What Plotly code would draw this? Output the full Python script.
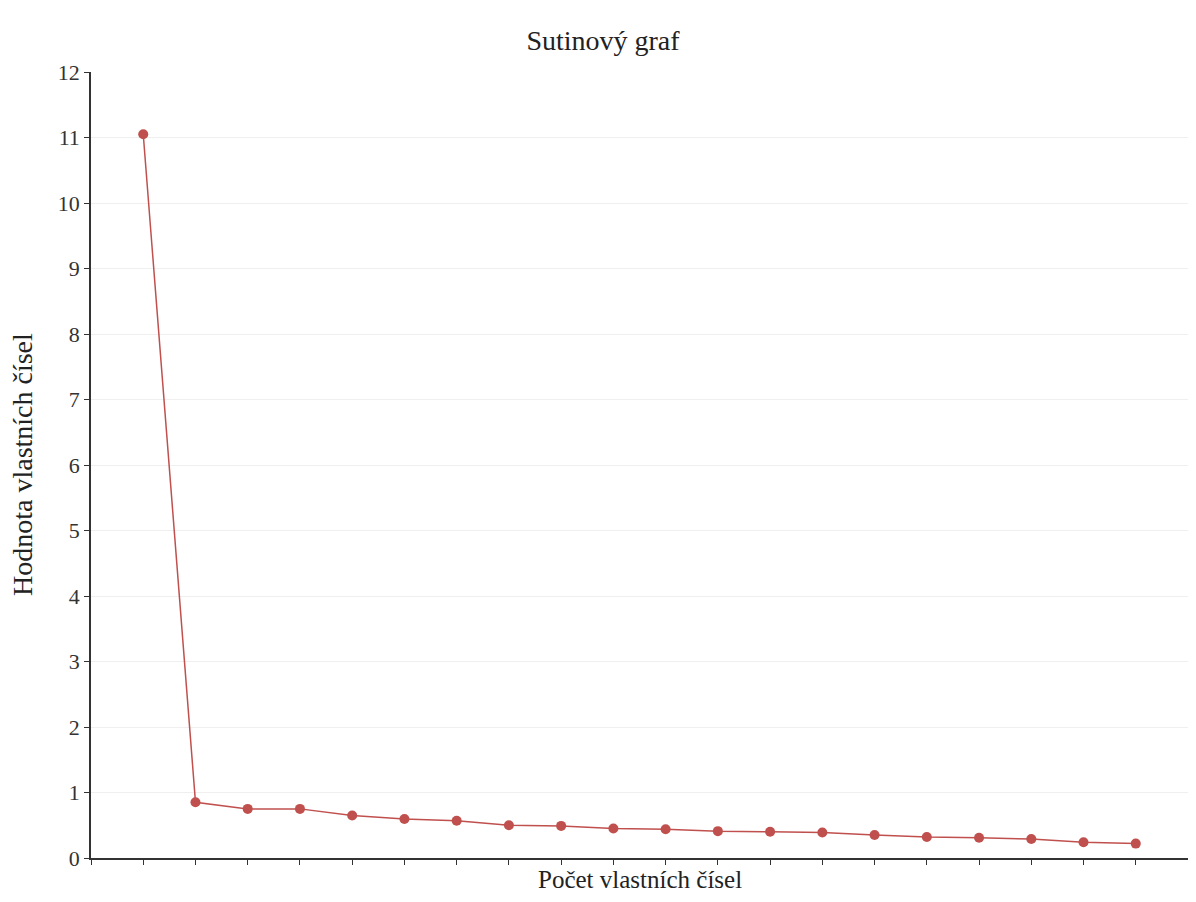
import plotly.graph_objects as go

components = list(range(1, 21))
eigenvalues = [11.05, 0.85, 0.75, 0.75, 0.65, 0.595, 0.57, 0.50, 0.49, 0.45,
               0.44, 0.41, 0.40, 0.39, 0.35, 0.32, 0.31, 0.29, 0.24, 0.22]
y_ticks = list(range(0, 13))

title_text = "Sutinový graf"
x_title = "Počet vlastních čísel"
y_title = "Hodnota vlastních čísel"

font_family = "Liberation Serif"
red = "#c0504d"

W, H = 1180, 886
L, R, T, B = 83, 0, 64, 36
PW, PH = W - L - R, H - T - B

fig = go.Figure()
fig.add_trace(go.Scatter(
    x=components, y=eigenvalues, mode="lines+markers",
    line=dict(color=red, width=1.5),
    marker=dict(color=red, size=10),
    showlegend=False,
))

fig.update_layout(
    width=W, height=H,
    paper_bgcolor="white", plot_bgcolor="white",
    margin=dict(l=L, r=R, t=T, b=B),
    font=dict(family=font_family, color="#222"),
    title=dict(text=title_text, x=595 / W, xref="container", y=1 - 32 / H, yref="container",
               xanchor="center", yanchor="middle",
               font=dict(family=font_family, size=28, color="#222")),
)

fig.update_xaxes(
    range=[0, 21], tickmode="array", tickvals=list(range(0, 22)),
    showticklabels=False, ticks="outside", ticklen=5, tickwidth=1.2, tickcolor="#333",
    showline=True, linecolor="#333", linewidth=1.5, showgrid=False, zeroline=False,
)
fig.update_yaxes(
    range=[0, 12], tickmode="array", tickvals=y_ticks, ticktext=[str(v) for v in y_ticks],
    ticks="outside", ticklen=5, tickwidth=1.2, tickcolor="#333",
    showline=True, linecolor="#333", linewidth=1.5,
    showgrid=True, gridcolor="#efefef", gridwidth=1, zeroline=False,
    tickfont=dict(family=font_family, size=22, color="#333"),
)

fig.add_annotation(text=x_title, xref="paper", yref="paper", x=0.5, y=-21 / PH,
                   xanchor="center", yanchor="middle", showarrow=False,
                   font=dict(family=font_family, size=25, color="#222"))
fig.add_annotation(text=y_title, xref="paper", yref="paper", x=-69 / PW, y=0.5,
                   xanchor="center", yanchor="middle", showarrow=False, textangle=-90,
                   font=dict(family=font_family, size=28, color="#222"))

fig.write_html("out.html")
